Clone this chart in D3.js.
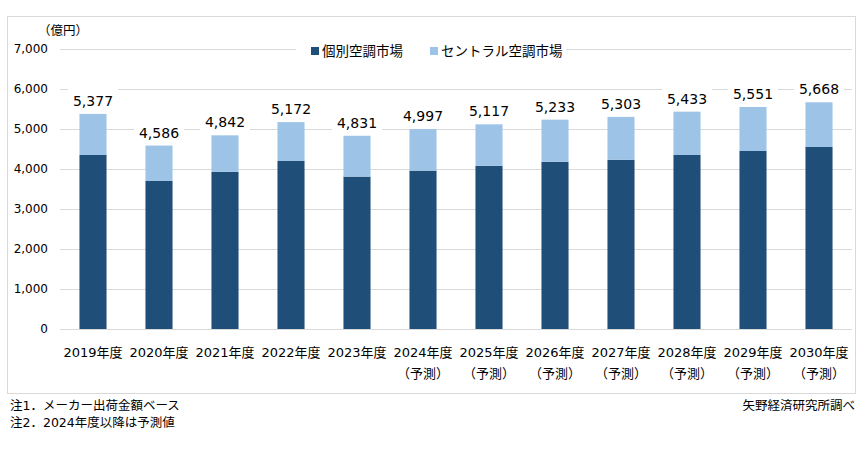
<!DOCTYPE html>
<html><head><meta charset="utf-8">
<script src="https://cdn.jsdelivr.net/npm/d3@7"></script>
<style>
body{margin:0;background:#fff;}
svg text{font-family:"DejaVu Sans","Noto Sans CJK JP",sans-serif;fill:#000;}
</style></head>
<body>
<script>
const years = ["2019年度","2020年度","2021年度","2022年度","2023年度","2024年度","2025年度","2026年度","2027年度","2028年度","2029年度","2030年度"];
const forecast = [false,false,false,false,false,true,true,true,true,true,true,true];
const individual = [4350,3700,3930,4200,3810,3960,4080,4180,4230,4350,4450,4550];
const totals = [5377,4586,4842,5172,4831,4997,5117,5233,5303,5433,5551,5668];
const central = totals.map((t,i)=>t-individual[i]);
const seriesNames = ["個別空調市場","セントラル空調市場"];
const colors = ["#1F4E79","#9DC3E6"];
const yTicks = [0,1000,2000,3000,4000,5000,6000,7000];

const W=863,H=475;
const svg=d3.select("body").append("svg").attr("width",W).attr("height",H);
svg.append("rect").attr("x",7.5).attr("y",16.5).attr("width",848).attr("height",377)
  .attr("fill","#fff").attr("stroke","#d9d9d9");

const x=d3.scaleBand().domain(years).range([60,852]).paddingInner(0.59).paddingOuter(0.295);
const y=d3.scaleLinear().domain([0,7000]).range([329,49]);

// grid
svg.append("g").selectAll("line").data(yTicks).join("line")
  .attr("x1",60).attr("x2",852).attr("y1",d=>Math.round(y(d))+0.5).attr("y2",d=>Math.round(y(d))+0.5)
  .attr("stroke","#d9d9d9");

// y axis labels
const yAxis=d3.axisLeft(y).tickValues(yTicks).tickFormat(d3.format(",")).tickSize(0).tickPadding(12);
const ga=svg.append("g").attr("transform","translate(60,0)").call(yAxis);
ga.select(".domain").remove();
ga.selectAll("text").attr("font-size",12).attr("fill","#000").style("font-family",'"DejaVu Sans","Noto Sans CJK JP",sans-serif');

svg.append("text").attr("x",38).attr("y",35).attr("font-size",12.5).text("（億円）");

// stacked bars
const stackData=years.map((yr,i)=>({year:yr,a:individual[i],b:central[i]}));
const stack=d3.stack().keys(["a","b"])(stackData);
svg.append("g").selectAll("g").data(stack).join("g").attr("fill",(d,i)=>colors[i])
  .selectAll("rect").data(d=>d).join("rect")
  .attr("x",d=>x(d.data.year)).attr("width",x.bandwidth())
  .attr("y",d=>y(d[1])).attr("height",d=>y(d[0])-y(d[1]));

// total labels with white background
const lbl=svg.append("g").selectAll("g").data(totals).join("g")
  .attr("transform",(d,i)=>`translate(${x(years[i])+x.bandwidth()/2},${y(d)-8})`);
lbl.append("rect").attr("x",-25).attr("y",-17).attr("width",50).attr("height",20).attr("fill","#fff");
lbl.append("text").attr("text-anchor","middle").attr("font-size",14).text(d=>d3.format(",")(d));

// x labels
const xl=svg.append("g").selectAll("g").data(years).join("g")
  .attr("transform",d=>`translate(${x(d)+x.bandwidth()/2},0)`);
xl.append("text").attr("text-anchor","middle").attr("y",357).attr("font-size",13).text(d=>d);
xl.filter((d,i)=>forecast[i]).append("text").attr("text-anchor","middle").attr("y",378).attr("font-size",13).text("（予測）");

// legend
const lg=svg.append("g");
lg.append("rect").attr("x",296).attr("y",40).attr("width",270).attr("height",24).attr("fill","#fff");
const items=[{x:311},{x:430}];
items.forEach((it,i)=>{
  lg.append("rect").attr("x",it.x).attr("y",47).attr("width",8).attr("height",8).attr("fill",colors[i]);
  lg.append("text").attr("x",it.x+11).attr("y",56).attr("font-size",13.5).text(seriesNames[i]);
});

// notes
svg.append("text").attr("x",10).attr("y",410).attr("font-size",12.5).text("注1．メーカー出荷金額ベース");
svg.append("text").attr("x",10).attr("y",427).attr("font-size",12.5).text("注2．2024年度以降は予測値");
svg.append("text").attr("x",855).attr("y",410).attr("text-anchor","end").attr("font-size",12.5).text("矢野経済研究所調べ");
</script>
</body></html>
